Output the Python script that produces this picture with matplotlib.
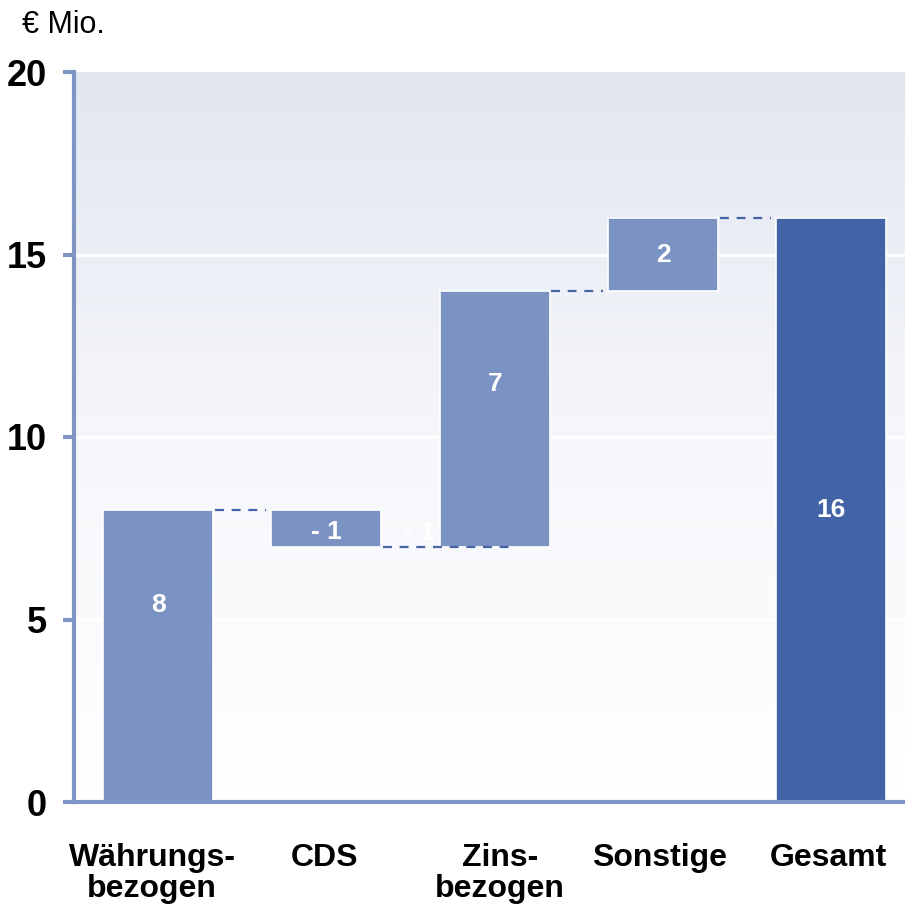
import numpy as np
import matplotlib.pyplot as plt
from matplotlib.colors import LinearSegmentedColormap

# data ------------------------------------------------------------------------
categories = ["Währungs-\nbezogen", "CDS", "Zins-\nbezogen", "Sonstige", "Gesamt"]
changes = [8, -1, 7, 2]
total = 16
value_labels = ["8", "- 1", "7", "2", "16"]
label_y = [5.4, 7.4, 11.45, 15.0, 8.0]   # where the numbers sit in the bars
cat_shift = [-0.035, -0.012, 0.033, -0.02, -0.02]  # labels aren't quite centred
yticks = [0, 5, 10, 15, 20]

# waterfall bottoms / heights
bottoms, heights = [], []
run = 0
for c in changes:
    lo = min(run, run + c)
    bottoms.append(lo)
    heights.append(abs(c))
    run += c
bottoms.append(0)
heights.append(total)
levels = np.cumsum(changes)  # level after each step

light = "#7b93c3"
dark = "#4263a5"
axis_col = "#7f96c4"
dash_col = "#4663a6"
font = "Liberation Sans"

fig = plt.figure(figsize=(9.05, 9.06), dpi=100)
ax = fig.add_axes([74 / 905, 1 - 802 / 906, 1 - 74 / 905, (802 - 72) / 906])

x = np.arange(len(categories))
w = 0.654
ax.set_xlim(-0.5, 4.438)
ax.set_ylim(0, 20)

# gradient background
grad = np.linspace(0, 1, 256).reshape(-1, 1)
cmap = LinearSegmentedColormap.from_list("bg", ["#ffffff", "#f6f7fb", "#e1e6f0"])
ax.imshow(grad, cmap=cmap, origin="lower", aspect="auto",
          extent=[-0.5, 4.438, 0, 20], zorder=0)

for yv in [5, 10, 15]:
    ax.axhline(yv, color="white", lw=2.2, zorder=1)

colors = [light] * 4 + [dark]
ax.bar(x, heights, bottom=bottoms, width=w, color=colors,
       edgecolor="white", linewidth=1.2, zorder=2)

# connectors
for i in range(len(changes)):
    x0 = x[i] + w / 2
    x1 = x[i + 1] - w / 2
    if i == 1:
        x1 = x[i + 1] + 0.14
    ax.plot([x0 + 0.01, x1 - 0.03], [levels[i], levels[i]], color=dash_col,
            lw=1.6, ls=(0, (4, 3.5)), zorder=3)

for xi, ly, lab in zip(x, label_y, value_labels):
    ax.text(xi, ly, lab, ha="center", va="center", color="white",
            fontsize=19, fontweight="bold", family=font, zorder=4)
# faint stray label between CDS and Zins
ax.text(1.55, 7.37, "- 1", ha="center", va="center", color="white",
        fontsize=19, fontweight="bold", family=font, zorder=1)

for s in ["top", "right"]:
    ax.spines[s].set_visible(False)
for s in ["left", "bottom"]:
    ax.spines[s].set_color(axis_col)
    ax.spines[s].set_linewidth(3)

ax.set_yticks(yticks)
ax.set_yticklabels([str(t) for t in yticks], fontsize=26, fontweight="bold",
                   family=font)
ax.tick_params(axis="y", length=8, width=3, color=axis_col, pad=11.5)
ax.set_xticks([])

for xi, dx, lab in zip(x, cat_shift, categories):
    ax.text(xi + dx, -1.12, lab, ha="center", va="top", fontsize=23,
            fontweight="bold", family=font, linespacing=1.03)

fig.text(22 / 905, 1 - 25 / 906, "€ Mio.", ha="left", va="center",
         fontsize=22, family=font)

fig.savefig("out.png", dpi=100)
